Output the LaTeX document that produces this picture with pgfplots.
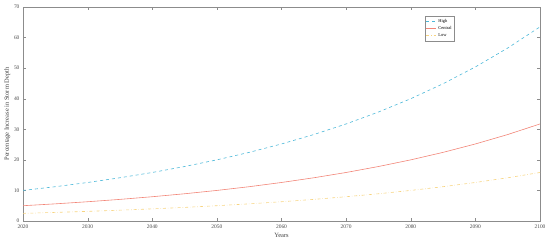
\documentclass[border=0pt]{standalone}
\usepackage{pgfplots}
\pgfplotsset{compat=1.18}
\usepackage{fontspec}
\setmainfont{Liberation Serif}

\definecolor{mycolor1}{rgb}{0.30,0.72,0.85}
\definecolor{mycolor2}{rgb}{0.95,0.52,0.47}
\definecolor{mycolor3}{rgb}{0.97,0.83,0.50}

\begin{document}
\begin{tikzpicture}
\begin{axis}[%
name=ax,
width=517bp,
height=214bp,
scale only axis,
xmin=2020, xmax=2100,
ymin=0, ymax=70,
xtick={2020,2030,...,2100},
ytick={0,10,...,70},
xlabel={Years},
ylabel={Percentage Increase in Storm Depth},
x tick label style={/pgf/number format/1000 sep={}},
/pgf/number format/assume math mode=true,
tick label style={font=\fontsize{5.5}{6}\selectfont, color=black!70},
label style={font=\fontsize{6.5}{7}\selectfont, color=black!75},
xlabel style={yshift=2pt},
ylabel style={yshift=-3pt},
axis line style={black!45},
tick style={black!45},
tick align=inside,
major tick length=3pt,
legend style={at={(0.777,0.958)}, anchor=north west, draw=black!45,
  font=\fontsize{4.5}{5}\selectfont, legend cell align=left,
  row sep=-1.5pt, inner sep=1pt},
legend image code/.code={\draw[#1] (0cm,0cm) -- (0.35cm,0cm);},
]
\addplot[color=mycolor1, dashed, line width=0.6pt] table[row sep=crcr] {%
2020 10.00\\ 2025 11.22\\ 2030 12.60\\ 2035 14.14\\ 2040 15.87\\
2045 17.82\\ 2050 20.00\\ 2055 22.45\\ 2060 25.20\\ 2065 28.28\\
2070 31.75\\ 2075 35.64\\ 2080 40.00\\ 2085 44.90\\ 2090 50.40\\
2095 56.57\\ 2100 63.50\\
};
\addlegendentry{High}
\addplot[color=mycolor2, line width=0.6pt] table[row sep=crcr] {%
2020 5.00\\ 2025 5.61\\ 2030 6.30\\ 2035 7.07\\ 2040 7.94\\
2045 8.91\\ 2050 10.00\\ 2055 11.22\\ 2060 12.60\\ 2065 14.14\\
2070 15.87\\ 2075 17.82\\ 2080 20.00\\ 2085 22.45\\ 2090 25.20\\
2095 28.28\\ 2100 31.75\\
};
\addlegendentry{Central}
\addplot[color=mycolor3, dash dot, line width=0.6pt] table[row sep=crcr] {%
2020 2.50\\ 2025 2.81\\ 2030 3.15\\ 2035 3.54\\ 2040 3.97\\
2045 4.45\\ 2050 5.00\\ 2055 5.61\\ 2060 6.30\\ 2065 7.07\\
2070 7.94\\ 2075 8.91\\ 2080 10.00\\ 2085 11.22\\ 2090 12.60\\
2095 14.14\\ 2100 15.87\\
};
\addlegendentry{Low}
\end{axis}
\pgfresetboundingbox
\path[use as bounding box] ([xshift=-23bp,yshift=-22bp]ax.south west)
  rectangle ([xshift=10bp,yshift=7bp]ax.north east);
\end{tikzpicture}
\end{document}
